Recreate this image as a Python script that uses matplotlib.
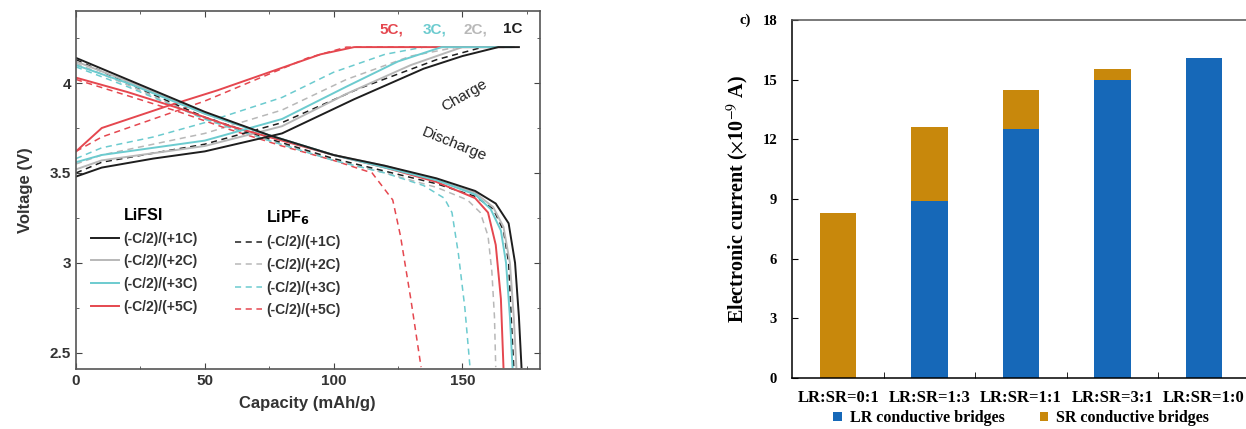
import matplotlib
matplotlib.use("Agg")
import matplotlib.pyplot as plt
from matplotlib.ticker import MultipleLocator
from matplotlib.lines import Line2D

# ----------------------------------------
# Data: left panel (charge / discharge curves)
# ----------------------------------------

# LiFSI, discharge at C/2 after charge at 1C, 2C, 3C, 5C
fsi_1c_dis_cap = [0, 20, 50, 75, 100, 120, 140, 155, 163, 168, 170.5, 172, 173]
fsi_1c_dis_v = [4.14, 4.02, 3.84, 3.71, 3.60, 3.54, 3.47, 3.40, 3.33, 3.22, 3.00, 2.70, 2.42]
fsi_2c_dis_cap = [0, 20, 50, 75, 100, 120, 140, 155, 162, 166, 168.5, 170, 171]
fsi_2c_dis_v = [4.12, 4.01, 3.83, 3.71, 3.60, 3.54, 3.46, 3.39, 3.31, 3.20, 3.00, 2.70, 2.42]
fsi_3c_dis_cap = [0, 20, 50, 75, 100, 120, 140, 155, 161, 165, 167, 168.5, 169.5]
fsi_3c_dis_v = [4.10, 4.00, 3.83, 3.71, 3.60, 3.53, 3.46, 3.38, 3.30, 3.18, 3.00, 2.70, 2.42]
fsi_5c_dis_cap = [0, 20, 40, 60, 80, 100, 120, 140, 155, 160, 163, 165, 166]
fsi_5c_dis_v = [4.03, 3.95, 3.86, 3.76, 3.68, 3.60, 3.53, 3.45, 3.36, 3.28, 3.10, 2.80, 2.42]

# LiPF6 discharge
pf6_1c_dis_cap = [0, 20, 50, 75, 100, 120, 140, 155, 162, 166, 168, 169, 170]
pf6_1c_dis_v = [4.13, 4.00, 3.81, 3.69, 3.58, 3.51, 3.44, 3.37, 3.30, 3.18, 3.00, 2.70, 2.42]
pf6_2c_dis_cap = [0, 20, 50, 75, 100, 120, 140, 152, 157, 160, 161.5, 162.5, 163]
pf6_2c_dis_v = [4.11, 3.99, 3.80, 3.68, 3.57, 3.50, 3.42, 3.35, 3.28, 3.15, 2.95, 2.70, 2.42]
pf6_3c_dis_cap = [0, 20, 50, 75, 100, 120, 135, 143, 146, 148.5, 151, 153]
pf6_3c_dis_v = [4.09, 3.98, 3.80, 3.68, 3.57, 3.50, 3.43, 3.36, 3.28, 3.05, 2.75, 2.42]
pf6_5c_dis_cap = [0, 20, 40, 60, 80, 100, 115, 123, 126, 130, 134]
pf6_5c_dis_v = [4.02, 3.93, 3.84, 3.74, 3.65, 3.57, 3.50, 3.35, 3.15, 2.80, 2.42]

# LiFSI charge
fsi_1c_chg_cap = [0, 10, 30, 50, 80, 108, 135, 150, 164, 172]
fsi_1c_chg_v = [3.48, 3.53, 3.58, 3.62, 3.72, 3.91, 4.08, 4.15, 4.20, 4.20]
fsi_2c_chg_cap = [0, 10, 30, 50, 80, 105, 130, 150, 170]
fsi_2c_chg_v = [3.52, 3.57, 3.61, 3.65, 3.76, 3.94, 4.10, 4.20, 4.20]
fsi_3c_chg_cap = [0, 10, 30, 50, 80, 105, 125, 142, 169]
fsi_3c_chg_v = [3.56, 3.60, 3.64, 3.68, 3.80, 3.98, 4.12, 4.20, 4.20]
fsi_5c_chg_cap = [0, 10, 35, 55, 75, 95, 108, 166]
fsi_5c_chg_v = [3.62, 3.75, 3.87, 3.96, 4.06, 4.16, 4.20, 4.20]

# LiPF6 charge
pf6_1c_chg_cap = [0, 10, 30, 50, 80, 110, 140, 158, 170]
pf6_1c_chg_v = [3.50, 3.56, 3.61, 3.66, 3.78, 3.97, 4.13, 4.20, 4.20]
pf6_2c_chg_cap = [0, 10, 30, 50, 80, 105, 130, 148, 163]
pf6_2c_chg_v = [3.55, 3.60, 3.66, 3.72, 3.85, 4.02, 4.15, 4.20, 4.20]
pf6_3c_chg_cap = [0, 10, 30, 50, 80, 100, 120, 135, 153]
pf6_3c_chg_v = [3.58, 3.64, 3.70, 3.78, 3.92, 4.06, 4.16, 4.20, 4.20]
pf6_5c_chg_cap = [0, 10, 30, 50, 70, 90, 105, 134]
pf6_5c_chg_v = [3.62, 3.70, 3.80, 3.90, 4.02, 4.14, 4.20, 4.20]

rate_labels = ["(-C/2)/(+1C)", "(-C/2)/(+2C)", "(-C/2)/(+3C)", "(-C/2)/(+5C)"]
top_labels = ["5C,", "3C,", "2C,", "1C"]

# ----------------------------------------
# Data: right panel (stacked bars)
# ----------------------------------------

ratios = ["LR:SR=0:1", "LR:SR=1:3", "LR:SR=1:1", "LR:SR=3:1", "LR:SR=1:0"]
lr_current = [0.0, 8.9, 12.5, 15.0, 16.1]
sr_current = [8.3, 3.7, 2.0, 0.55, 0.0]

# ----------------------------------------
# Styles
# ----------------------------------------

c_black = "#1e1e1e"
c_gray = "#b8b8b8"
c_cyan = "#6ccbcf"
c_red = "#e5474f"
rate_colors = [c_black, c_gray, c_cyan, c_red]
top_colors = [c_red, c_cyan, c_gray, c_black]
dash = (0, (4, 3))
c_blue = "#1668b8"
c_orange = "#c8880c"

fig = plt.figure(figsize=(12.46, 4.29), dpi=100)

# ----------------------------------------
# Left panel
# ----------------------------------------

ax = fig.add_axes([0.061, 0.140, 0.372, 0.834])
sans = "Liberation Sans"

fsi = [
    (fsi_1c_dis_cap, fsi_1c_dis_v, fsi_1c_chg_cap, fsi_1c_chg_v),
    (fsi_2c_dis_cap, fsi_2c_dis_v, fsi_2c_chg_cap, fsi_2c_chg_v),
    (fsi_3c_dis_cap, fsi_3c_dis_v, fsi_3c_chg_cap, fsi_3c_chg_v),
    (fsi_5c_dis_cap, fsi_5c_dis_v, fsi_5c_chg_cap, fsi_5c_chg_v),
]
pf6 = [
    (pf6_1c_dis_cap, pf6_1c_dis_v, pf6_1c_chg_cap, pf6_1c_chg_v),
    (pf6_2c_dis_cap, pf6_2c_dis_v, pf6_2c_chg_cap, pf6_2c_chg_v),
    (pf6_3c_dis_cap, pf6_3c_dis_v, pf6_3c_chg_cap, pf6_3c_chg_v),
    (pf6_5c_dis_cap, pf6_5c_dis_v, pf6_5c_chg_cap, pf6_5c_chg_v),
]

# draw from 5C to 1C so the black lines end on top
for i in [1, 3, 2, 0]:
    dc, dv, cc, cv = pf6[i]
    ax.plot(dc, dv, color=rate_colors[i], lw=1.1, linestyle=dash)
    ax.plot(cc, cv, color=rate_colors[i], lw=1.1, linestyle=dash)
for i in [1, 3, 2, 0]:
    dc, dv, cc, cv = fsi[i]
    ax.plot(dc, dv, color=rate_colors[i], lw=1.4)
    ax.plot(cc, cv, color=rate_colors[i], lw=1.4)

ax.set_xlim(0, 180)
ax.set_ylim(2.41, 4.40)
ax.xaxis.set_major_locator(MultipleLocator(50))
ax.xaxis.set_minor_locator(MultipleLocator(25))
ax.yaxis.set_major_locator(MultipleLocator(0.5))
ax.yaxis.set_minor_locator(MultipleLocator(0.25))
ax.set_yticks([2.5, 3, 3.5, 4])
ax.set_yticklabels(["2.5", "3", "3.5", "4"])
ax.tick_params(which="both", direction="in", top=True, right=True,
               colors="#444444", labelcolor="#333333")
ax.tick_params(which="major", length=4, labelsize=11)
ax.tick_params(which="minor", length=2.5)
for lab in ax.get_xticklabels() + ax.get_yticklabels():
    lab.set_fontfamily(sans)
    lab.set_fontweight("bold")
for sp in ax.spines.values():
    sp.set_color("#555555")
    sp.set_linewidth(1.2)

ax.set_xlabel("Capacity (mAh/g)", fontfamily=sans, fontweight="bold",
              fontsize=12, color="#333333", labelpad=6)
ax.set_ylabel("Voltage (V)", fontfamily=sans, fontweight="bold",
              fontsize=12, color="#333333", labelpad=12)

ax.text(151, 3.93, "Charge", rotation=30, ha="center", va="center",
        fontfamily=sans, fontsize=11, color="#222222")
ax.text(147, 3.66, "Discharge", rotation=-22, ha="center", va="center",
        fontfamily=sans, fontsize=11, color="#222222")

for x, lab, col in zip([118, 134.5, 150.5, 166], top_labels, top_colors):
    ax.text(x, 4.30, lab, color=col, fontfamily=sans, fontweight="bold",
            fontsize=11, ha="left", va="center")

fsi_handles = [Line2D([], [], color=c, lw=1.4) for c in rate_colors]
pf6_handles = [Line2D([], [], color=c, lw=1.1, linestyle=dash) for c in rate_colors]
leg_kw = dict(frameon=False, handlelength=2.0, handletextpad=0.3,
              labelspacing=0.62, borderaxespad=0,
              prop={"family": sans, "weight": "bold", "size": 10},
              title_fontproperties={"family": sans, "weight": "bold", "size": 11.5})
leg1 = ax.legend(fsi_handles, rate_labels, title="LiFSI",
                 loc="upper left", bbox_to_anchor=(0.02, 0.465), **leg_kw)
for t in leg1.get_texts():
    t.set_color("#333333")
ax.add_artist(leg1)
leg2 = ax.legend(pf6_handles, rate_labels, title=r"LiPF$_\mathbf{6}$",
                 loc="upper left", bbox_to_anchor=(0.33, 0.465), **leg_kw)
for t in leg2.get_texts():
    t.set_color("#333333")

# ----------------------------------------
# Right panel
# ----------------------------------------

plt.rcParams["mathtext.fontset"] = "stix"
serif = "Liberation Serif"

bx = fig.add_axes([0.636, 0.119, 0.367, 0.834])
pos = list(range(len(ratios)))
bx.bar(pos, lr_current, width=0.4, color=c_blue, label="LR conductive bridges")
bx.bar(pos, sr_current, width=0.4, bottom=lr_current, color=c_orange,
       label="SR conductive bridges")

bx.set_xlim(-0.5, 4.5)
bx.set_ylim(0, 18)
bx.set_yticks([0, 3, 6, 9, 12, 15, 18])
bx.set_xticks(pos)
bx.set_xticklabels(ratios)
bx.set_xticks([0.5, 1.5, 2.5, 3.5], minor=True)
bx.tick_params(axis="x", which="major", length=0, pad=9)
bx.tick_params(axis="x", which="minor", direction="in", length=4)
bx.tick_params(axis="y", direction="in", length=4, pad=11)
for lab in bx.get_xticklabels():
    lab.set_fontfamily(serif)
    lab.set_fontweight("bold")
    lab.set_fontsize(12)
for lab in bx.get_yticklabels():
    lab.set_fontfamily(serif)
    lab.set_fontweight("bold")
    lab.set_fontsize(10.5)
bx.spines["right"].set_visible(False)
for sp in ["left", "bottom", "top"]:
    bx.spines[sp].set_linewidth(1.1)
bx.spines["top"].set_color("#555555")

bx.set_ylabel(r"Electronic current ($\times$10$^{-9}$ A)", fontfamily=serif,
              fontweight="bold", fontsize=14.5, labelpad=8)
bx.text(-0.115, 1.0, "c)", transform=bx.transAxes, fontfamily=serif,
        fontweight="bold", fontsize=10.5, ha="left", va="center")

bx.legend(loc="upper center", bbox_to_anchor=(0.5, -0.072), ncol=2,
          frameon=False, handlelength=0.55, handleheight=0.55,
          handletextpad=0.5, columnspacing=2.2, borderaxespad=0,
          prop={"family": serif, "weight": "bold", "size": 11.5})

fig.savefig("out.png", dpi=100)
